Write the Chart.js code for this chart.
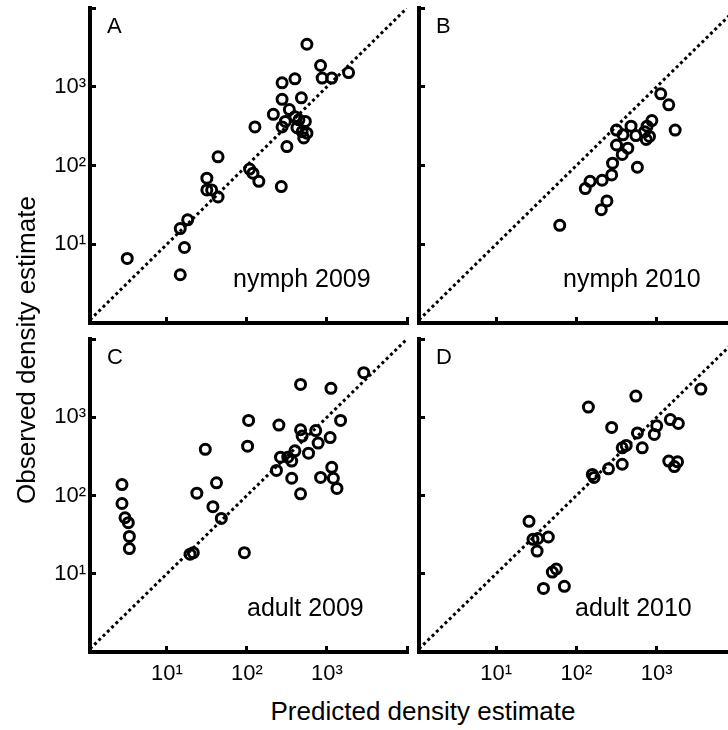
<!DOCTYPE html>
<html>
<head>
<meta charset="utf-8">
<script src="https://cdn.jsdelivr.net/npm/chart.js@4.4.1/dist/chart.umd.min.js"></script>
<style>
  body { margin: 0; background: #fff; overflow: hidden; }
  #fig { position: relative; width: 728px; height: 730px; overflow: hidden; font-family: "Liberation Sans", Arial, sans-serif; }
  #fig canvas { position: absolute; }
  .title { position: absolute; font-size: 26px; line-height: 26px; color: #000; white-space: nowrap; text-align: center; }
</style>
</head>
<body>
<div id="fig">
  <canvas id="panelA" width="412" height="332" style="left:0;top:0"></canvas>
  <canvas id="panelB" width="330" height="332" style="left:412px;top:0"></canvas>
  <canvas id="panelC" width="412" height="360" style="left:0;top:332px"></canvas>
  <canvas id="panelD" width="330" height="360" style="left:412px;top:332px"></canvas>
  <div class="title" style="left:223px;top:698px;width:400px">Predicted density estimate</div>
  <div class="title" style="left:-174px;top:337px;width:400px;height:26px;transform:rotate(-90deg)">Observed density estimate</div>
</div>
<script>
// predicted (x) and observed (y) density estimates
var nymph2009Pred = [3.2, 14.7, 18.2, 16.6, 14.7, 31.6, 31.6, 36.3, 43.6, 43.6, 108, 119, 141, 126, 269, 214, 275, 398, 275, 339, 302, 275, 316, 479, 447, 537, 422, 490, 562, 513, 562, 832, 871, 1148, 1862, 398];
var nymph2009Obs  = [6.6, 15.8, 20.4, 9.1, 4.1, 69, 49, 49, 39.8, 129, 90, 80, 63, 309, 54, 447, 1122, 1259, 692, 513, 363, 309, 174, 724, 380, 363, 302, 269, 257, 224, 3467, 1862, 1288, 1288, 1514, 417];

var nymph2010Pred = [62, 204, 240, 129, 148, 209, 275, 282, 372, 437, 316, 575, 316, 380, 479, 550, 708, 741, 813, 871, 1122, 1413, 1698, 759];
var nymph2010Obs  = [17.4, 27.5, 35.5, 51, 63, 65, 76, 107, 138, 166, 182, 95, 282, 245, 316, 240, 269, 214, 234, 372, 813, 589, 282, 316];

var adult2009Pred = [2.75, 2.75, 3.0, 3.3, 3.4, 3.4, 19.5, 21.4, 23.7, 30.2, 37.6, 41.7, 47.9, 93, 105, 102, 234, 263, 251, 324, 363, 398, 363, 468, 468, 490, 589, 724, 776, 832, 1096, 1148, 1202, 1334, 1479, 468, 1122, 2884];
var adult2009Obs  = [138, 79, 52, 45, 30, 21, 17.8, 18.6, 107, 389, 72, 145, 51, 18.6, 912, 427, 209, 309, 794, 309, 275, 372, 166, 105, 692, 575, 347, 676, 468, 170, 550, 229, 166, 123, 912, 2630, 2344, 3715];

var adult2010Pred = [25.7, 28.8, 33.1, 32.4, 44.7, 50.1, 56.2, 38.9, 70.8, 141, 158, 166, 251, 275, 372, 372, 417, 550, 575, 661, 933, 1000, 1479, 1862, 1413, 1660, 1820, 3548];
var adult2010Obs  = [46.8, 27.5, 28.2, 19.5, 29.5, 10.5, 11.5, 6.5, 6.9, 1349, 186, 170, 219, 741, 251, 407, 437, 1862, 631, 407, 603, 776, 933, 832, 275, 234, 269, 2291];

var tickValues = [1, 10, 100, 1000, 10000];
var tickLabels = { 10: '10\u00B9', 100: '10\u00B2', 1000: '10\u00B3' };
var xMin = 1.096, yMin = 1, axisMax = 10000;

Chart.defaults.font.family = '"Liberation Sans", Arial, sans-serif';
Chart.defaults.color = '#000';

// letter + caption inside each panel
var panelText = {
  id: 'panelText',
  afterDraw: function(chart, args, o) {
    var ctx = chart.ctx, a = chart.chartArea;
    ctx.save();
    ctx.fillStyle = '#000';
    ctx.textAlign = 'left';
    ctx.textBaseline = 'alphabetic';
    ctx.font = '22px "Liberation Sans", Arial, sans-serif';
    ctx.fillText(o.letter, a.left + 17, a.top + 25);
    ctx.font = '25px "Liberation Sans", Arial, sans-serif';
    ctx.fillText(o.caption, a.left + o.capX, a.bottom - 36);
    ctx.restore();
  }
};

function logAxis(min, showLabels, size, isX) {
  return {
    type: 'logarithmic',
    min: min,
    max: axisMax,
    afterBuildTicks: function(s) {
      s.ticks = tickValues.filter(function(v) { return v >= s.min && v <= s.max; })
        .map(function(v) { return { value: v }; });
    },
    afterFit: function(s) {
      if (isX) s.height = size; else s.width = size;
      s.paddingTop = s.paddingBottom = s.paddingLeft = s.paddingRight = 0;
    },
    border: { display: true, color: '#000', width: 4 },
    grid: { display: true, drawOnChartArea: false, drawTicks: true, tickLength: -6, tickWidth: 3, tickColor: '#000' },
    ticks: {
      display: showLabels,
      padding: isX ? 15 : 10,
      autoSkip: false,
      maxRotation: 0,
      font: { size: 22 },
      callback: function(v) { return tickLabels[v] || ''; }
    }
  };
}

function makePanel(id, pred, obs, o) {
  var points = pred.map(function(p, i) { return { x: p, y: obs[i] }; });
  new Chart(document.getElementById(id), {
    type: 'scatter',
    data: {
      datasets: [{
        type: 'line',
        data: [{ x: xMin, y: xMin }, { x: axisMax, y: axisMax }],
        borderColor: '#000',
        borderWidth: 3,
        borderDash: [3, 3],
        pointRadius: 0
      }, {
        data: points,
        pointRadius: 5,
        pointBorderWidth: 3,
        borderColor: '#000',
        backgroundColor: 'rgba(0,0,0,0)',
        pointHoverRadius: 5
      }]
    },
    options: {
      responsive: false,
      animation: false,
      events: [],
      layout: { autoPadding: false, padding: { top: o.top, right: 5, left: 0, bottom: 0 } },
      scales: {
        x: logAxis(xMin, o.showX, o.xHeight, true),
        y: logAxis(yMin, o.showY, o.yWidth, false)
      },
      plugins: {
        legend: { display: false },
        tooltip: { enabled: false },
        panelText: { letter: o.letter, caption: o.caption, capX: o.capX }
      }
    },
    plugins: [panelText]
  });
}

makePanel('panelA', nymph2009Pred, nymph2009Obs, { letter: 'A', caption: 'nymph 2009', capX: 143, showX: false, showY: true, top: 8, xHeight: 9, yWidth: 90 });
makePanel('panelB', nymph2010Pred, nymph2010Obs, { letter: 'B', caption: 'nymph 2010', capX: 144, showX: false, showY: false, top: 8, xHeight: 9, yWidth: 7 });
makePanel('panelC', adult2009Pred, adult2009Obs, { letter: 'C', caption: 'adult 2009', capX: 157, showX: true, showY: true, top: 7, xHeight: 40, yWidth: 90 });
makePanel('panelD', adult2010Pred, adult2010Obs, { letter: 'D', caption: 'adult 2010', capX: 156, showX: true, showY: false, top: 7, xHeight: 40, yWidth: 7 });
</script>
</body>
</html>
